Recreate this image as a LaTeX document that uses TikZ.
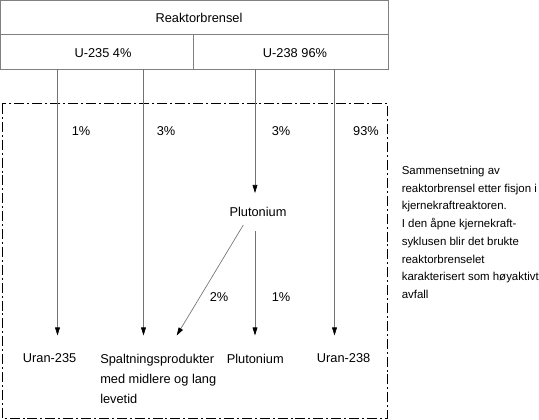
\documentclass[tikz,border=0pt]{standalone}
\usepackage{fontspec}
\setmainfont{Liberation Sans}
\usetikzlibrary{arrows.meta, positioning}

\begin{document}
\begin{tikzpicture}[x=0.75pt, y=-0.75pt,
  every node/.style={font=\fontsize{9.6}{13.3}\selectfont, inner sep=0pt},
  frame/.style={draw=black!50, line width=0.6pt},
  flow/.style={draw=black!55, line width=0.5pt, -{Triangle[length=6pt,width=3.6pt,black]}},
  pct/.style={anchor=center},
  resultlbl/.style={anchor=north west, align=left}]
  \useasboundingbox (0,0) rectangle (539,420);

  % fuel table
  \draw[frame] (0.5,0.5) rectangle (388,69);
  \draw[frame] (0.5,34) -- (388,34);
  \draw[frame] (193,34) -- (193,69);
  \node (fuel) at (199,18) {Reaktorbrensel};
  \node (u235) at (103,53) {U-235 4\%};
  \node (u238) at (295,53) {U-238 96\%};

  % reactor frame
  \draw[line width=0.75pt, dash pattern=on 7.5pt off 2.2pt on 1.5pt off 2.2pt]
    (2,104) rectangle (387,418);

  % results
  \node[resultlbl] (ur5) at (22.7,353.5) {Uran-235};
  \node[resultlbl, font=\fontsize{9.6}{15}\selectfont] (spalt) at (100,353.5)
    {Spaltningsprodukter\\med midlere og lang\\levetid};
  \node[resultlbl] (pu2) at (226.5,353.5) {Plutonium};
  \node[resultlbl] (ur8) at (316.7,353.5) {Uran-238};
  \node (pu) at (258,212) {Plutonium};

  % connectors
  \coordinate (a1) at (57.5,69);  \coordinate (b1) at (57.5,335.5);
  \coordinate (a2) at (143.5,69); \coordinate (b2) at (143.5,335.5);
  \coordinate (a3) at (255,69);   \coordinate (b3) at (255,193);
  \coordinate (a4) at (334.5,69); \coordinate (b4) at (334.5,335.5);
  \coordinate (c1) at (243.3,225); \coordinate (d1) at (176.7,335.5);
  \coordinate (c2) at (255,231.5); \coordinate (d2) at (255,335.5);
  \draw[flow] (a1) -- (b1);
  \draw[flow] (a2) -- (b2);
  \draw[flow] (a3) -- (b3);
  \draw[flow] (a4) -- (b4);
  \draw[flow] (c1) -- (d1);
  \draw[flow] (c2) -- (d2);

  % shares
  \node[pct] (p1) at (81,131) {1\%};
  \node[pct] (p2) at (166,131) {3\%};
  \node[pct] (p3) at (281,131) {3\%};
  \node[pct] (p4) at (366,131) {93\%};
  \node[pct] (p5) at (219,297) {2\%};
  \node[pct] (p6) at (281,297) {1\%};

  % note
  \node[resultlbl, font=\fontsize{8.6}{13.3}\selectfont] (note) at (401.5,165.8)
    {Sammensetning av\\reaktorbrensel etter fisjon i\\kjernekraftreaktoren.\\I den åpne kjernekraft-\\syklusen blir det brukte\\reaktorbrenselet\\karakterisert som høyaktivt\\avfall};
\end{tikzpicture}
\end{document}
